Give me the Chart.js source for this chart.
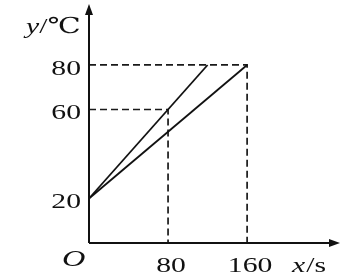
<!DOCTYPE html>
<html>
<head>
<meta charset="utf-8">
<script src="https://cdn.jsdelivr.net/npm/chart.js@4"></script>
<style>
  html, body { margin: 0; padding: 0; background: #fff; }
  #wrap { width: 343px; height: 279px; }
</style>
</head>
<body>
<div id="wrap"><canvas id="heat-chart" width="343" height="279"></canvas></div>
<script>
// values
var timeA = [0, 80, 120];
var tempA = [20, 60, 80];
var timeB = [0, 160];
var tempB = [20, 80];
var markTimes = [80, 160];
var markTemps = [60, 80];
var xTicks = [80, 160];
var yTicks = [20, 60, 80];

function pts(xs, ys) {
    return xs.map(function (x, i) { return { x: x, y: ys[i] }; });
}

var guides = markTimes.map(function (t, i) {
    return {
        data: [{ x: 0, y: markTemps[i] }, { x: t, y: markTemps[i] }, { x: t, y: 0 }],
        borderColor: '#1a1a1a',
        borderWidth: 1.7,
        borderDash: [7, 4],
        showLine: true,
        pointRadius: 0
    };
});

var serif = '"Liberation Serif", "DejaVu Serif", serif';
var stretch = 1.35; // the printed type is wide

// writes text stretched sideways, returns its drawn width
function wide(c, str, x, y, align, italic, size) {
    c.save();
    c.font = (italic ? 'italic ' : '') + size + 'px ' + serif;
    var w = c.measureText(str).width * stretch;
    var left = align === 'right' ? x - w : align === 'center' ? x - w / 2 : x;
    c.translate(left, y);
    c.scale(stretch, 1);
    c.textAlign = 'left';
    c.textBaseline = 'alphabetic';
    c.fillText(str, 0, 0);
    c.restore();
    return w;
}

// axes with arrows, tick labels and the O, x/s and y/℃ labels
var axisPlugin = {
    id: 'axisArrows',
    afterDatasetsDraw: function (chart) {
        var c = chart.ctx, a = chart.chartArea;
        var sx = chart.scales.x, sy = chart.scales.y;
        var x0 = sx.getPixelForValue(0);
        var y0 = sy.getPixelForValue(0);
        c.save();
        c.strokeStyle = '#111';
        c.fillStyle = '#111';
        c.lineWidth = 2;
        c.beginPath();
        c.moveTo(x0, y0);
        c.lineTo(x0, a.top + 6);
        c.moveTo(x0, y0);
        c.lineTo(a.right - 6, y0);
        c.stroke();
        c.beginPath();
        c.moveTo(x0, a.top);
        c.lineTo(x0 - 4, a.top + 11);
        c.lineTo(x0 + 4, a.top + 11);
        c.closePath();
        c.fill();
        c.beginPath();
        c.moveTo(a.right, y0);
        c.lineTo(a.right - 11, y0 - 4);
        c.lineTo(a.right - 11, y0 + 4);
        c.closePath();
        c.fill();

        yTicks.forEach(function (v) {
            wide(c, String(v), x0 - 8, sy.getPixelForValue(v) + 10, 'right', false, 22);
        });
        xTicks.forEach(function (v) {
            wide(c, String(v), sx.getPixelForValue(v) + 3, 272, 'center', false, 22);
        });

        wide(c, 'O', 62, 266, 'left', true, 24);
        var w = wide(c, 'x', 292, 272, 'left', true, 22);
        wide(c, '/s', 292 + w + 1, 272, 'left', false, 22);
        w = wide(c, 'y', 26, 33, 'left', true, 22);
        wide(c, '/℃', 26 + w, 33, 'left', false, 22);
        c.restore();
    }
};

var ctx = document.getElementById('heat-chart').getContext('2d');
var chart = new Chart(ctx, {
    type: 'scatter',
    data: {
        datasets: [{
            data: pts(timeA, tempA),
            borderColor: '#111',
            borderWidth: 1.8,
            showLine: true,
            pointRadius: 0
        }, {
            data: pts(timeB, tempB),
            borderColor: '#111',
            borderWidth: 1.8,
            showLine: true,
            pointRadius: 0
        }].concat(guides)
    },
    options: {
        responsive: false,
        animation: false,
        devicePixelRatio: 1,
        layout: { padding: { top: 4, right: 3, left: 0, bottom: 0 } },
        plugins: {
            legend: { display: false },
            tooltip: { enabled: false }
        },
        scales: {
            x: {
                type: 'linear',
                min: 0,
                max: 254,
                grid: { display: false, drawTicks: false },
                border: { display: false },
                afterBuildTicks: function (s) {
                    s.ticks = xTicks.map(function (v) { return { value: v }; });
                },
                afterFit: function (s) { s.height = 36; },
                ticks: { display: false }
            },
            y: {
                type: 'linear',
                min: 0,
                max: 107.4,
                grid: { display: false, drawTicks: false },
                border: { display: false },
                afterBuildTicks: function (s) {
                    s.ticks = yTicks.map(function (v) { return { value: v }; });
                },
                afterFit: function (s) { s.width = 89; },
                ticks: { display: false }
            }
        }
    },
    plugins: [axisPlugin]
});
</script>
</body>
</html>
